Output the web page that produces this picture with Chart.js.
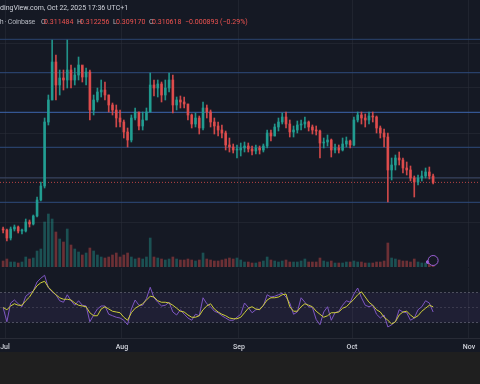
<!DOCTYPE html>
<html>
<head>
<meta charset="utf-8">
<script src="https://cdn.jsdelivr.net/npm/chart.js@4.4.1/dist/chart.umd.min.js"></script>
<style>
html, body { margin: 0; padding: 0; background: #1f1f1f; }
#wrap { position: relative; width: 480px; height: 384px; overflow: hidden; background: #1f1f1f; }
#pane { position: absolute; left: 0; top: 0; width: 480px; height: 352px; background: #151924; }
#priceChart { position: absolute; left: 0; top: 0; }
#rsiChart { position: absolute; left: 0; top: 268px; }
.hdr { position: absolute; font: 7px Roboto, sans-serif; white-space: nowrap; color: #b2b5be; line-height: 9px; }
.red { color: #ef5350; }
</style>
</head>
<body>
<div id="wrap">
  <div id="pane"></div>
  <canvas id="priceChart" width="480" height="267"></canvas>
  <canvas id="rsiChart" width="480" height="84"></canvas>
  <div class="hdr" style="left:0;top:4px;color:#d1d4dc">dingView.com, Oct 22, 2025 17:36 UTC+1</div>
  <div class="hdr" style="left:-4px;top:18px;letter-spacing:-0.25px">4h · Coinbase</div>
  <div class="hdr" style="left:41px;top:18px">O</div>
  <div class="hdr red" style="left:44px;top:18px">0.311484</div>
  <div class="hdr" style="left:77px;top:18px">H</div>
  <div class="hdr red" style="left:80px;top:18px">0.312256</div>
  <div class="hdr" style="left:113px;top:18px">L</div>
  <div class="hdr red" style="left:116px;top:18px">0.309170</div>
  <div class="hdr" style="left:149px;top:18px">C</div>
  <div class="hdr red" style="left:152px;top:18px">0.310618</div>
  <div class="hdr red" style="left:185px;top:18px">−0.000893 (−0.29%)</div>
</div>
<script>
// daily candles, day 0 = Jul 1 2025, first candle = Jun 30
const FIRST_DAY = -1;
const monthDays = [0, 31, 62, 92, 123];
const monthLabels = ['Jul', 'Aug', 'Sep', 'Oct', 'Nov'];

const firstOpen = 0.264;
const closes = [
  0.263,0.255,0.264,0.266,0.262,0.262,0.271,0.269,0.277,0.293,
  0.307,0.371,0.393,0.431,0.408,0.415,0.413,0.423,0.413,0.418,
  0.428,0.416,0.421,0.383,0.393,0.401,0.403,0.398,0.388,0.383,
  0.375,0.371,0.361,0.353,0.375,0.381,0.367,0.373,0.381,0.408,
  0.405,0.409,0.398,0.405,0.413,0.388,0.393,0.391,0.389,0.378,
  0.369,0.375,0.365,0.385,0.381,0.371,0.367,0.363,0.360,0.348,
  0.346,0.343,0.343,0.345,0.347,0.344,0.342,0.345,0.343,0.347,
  0.360,0.357,0.366,0.371,0.376,0.369,0.361,0.363,0.368,0.369,
  0.371,0.366,0.363,0.362,0.350,0.351,0.353,0.343,0.345,0.343,
  0.349,0.352,0.348,0.373,0.378,0.375,0.373,0.377,0.376,0.365,
  0.360,0.356,0.323,0.328,0.335,0.333,0.325,0.323,0.315,0.311,
  0.315,0.317,0.321,0.317,0.3106
];
const highs = [
  0.266,0.264,0.266,0.268,0.267,0.264,0.274,0.273,0.278,0.296,
  0.311,0.375,0.398,0.453,0.438,0.423,0.423,0.453,0.428,0.425,
  0.436,0.427,0.425,0.423,0.398,0.405,0.413,0.411,0.398,0.390,
  0.388,0.383,0.373,0.365,0.378,0.385,0.381,0.381,0.385,0.420,
  0.413,0.413,0.411,0.413,0.420,0.418,0.396,0.397,0.396,0.389,
  0.379,0.380,0.377,0.391,0.388,0.383,0.375,0.371,0.368,0.362,
  0.355,0.349,0.348,0.350,0.351,0.350,0.347,0.348,0.347,0.349,
  0.363,0.363,0.369,0.375,0.380,0.381,0.373,0.367,0.372,0.373,
  0.376,0.372,0.368,0.367,0.363,0.355,0.358,0.354,0.349,0.348,
  0.355,0.356,0.353,0.376,0.381,0.381,0.379,0.381,0.381,0.377,
  0.367,0.364,0.360,0.335,0.338,0.341,0.335,0.331,0.327,0.317,
  0.318,0.322,0.325,0.326,0.319
];
const lows = [
  0.260,0.252,0.253,0.262,0.260,0.259,0.261,0.266,0.268,0.276,
  0.292,0.305,0.368,0.393,0.393,0.398,0.403,0.405,0.405,0.408,
  0.413,0.411,0.408,0.373,0.378,0.391,0.396,0.393,0.381,0.378,
  0.366,0.366,0.355,0.346,0.351,0.373,0.363,0.363,0.373,0.381,
  0.397,0.396,0.391,0.393,0.401,0.380,0.383,0.385,0.385,0.373,
  0.365,0.366,0.359,0.363,0.375,0.366,0.359,0.357,0.355,0.343,
  0.341,0.340,0.335,0.337,0.341,0.341,0.338,0.339,0.339,0.341,
  0.345,0.352,0.357,0.362,0.369,0.365,0.356,0.356,0.360,0.363,
  0.365,0.362,0.359,0.358,0.335,0.345,0.347,0.336,0.340,0.340,
  0.342,0.346,0.345,0.347,0.371,0.369,0.366,0.369,0.371,0.360,
  0.355,0.346,0.291,0.313,0.323,0.328,0.320,0.318,0.312,0.296,
  0.308,0.312,0.315,0.314,0.309
];
// volume, millions
const volumes = [
  6,8,5,5,4,5,10,8,9,16,
  18,45,53,48,35,28,25,38,22,18,
  15,12,14,19,16,12,10,9,10,12,
  14,10,12,14,10,8,9,8,10,29,
  10,9,8,7,8,10,8,7,7,8,
  7,6,7,14,8,7,6,6,7,8,
  9,8,9,7,5,5,4,4,5,6,
  10,7,6,5,6,7,5,5,5,6,
  8,5,5,5,9,6,5,6,4,4,
  4,5,5,6,5,5,4,4,4,5,
  5,6,24,9,8,7,6,6,5,8,
  5,4,4,3,3
];
const rsi = [
  50,31,56,60,55,51,65,69,72,84,
  89,93,76,71,67,59,57,67,59,53,
  59,53,52,31,40,48,52,52,41,39,
  37,36,33,27,48,60,53,53,62,77,
  63,57,52,53,57,44,40,47,41,36,
  33,41,39,63,55,51,45,43,39,36,
  33,33,37,41,56,50,43,47,48,52,
  67,64,65,67,69,64,56,41,44,63,
  57,51,50,34,27,44,51,33,43,45,
  53,59,57,68,76,63,53,51,53,41,
  36,40,24,27,31,47,44,43,33,36,
  47,51,59,56,44
];
const rsiMa = [
  50,47,52,55,53,53,59,64,72,79,
  83,85,77,72,67,63,61,61,60,56,
  53,52,51,43,39,39,48,51,48,45,
  44,43,37,33,43,49,52,55,60,65,
  64,59,57,57,56,53,49,45,44,40,
  37,37,39,47,52,55,48,44,41,39,
  36,35,35,37,43,49,51,48,47,53,
  60,63,63,64,67,68,51,45,45,51,
  55,53,51,45,41,37,39,43,43,44,
  49,51,56,61,67,71,64,57,53,47,
  44,37,33,28,31,40,44,45,40,36,
  39,45,49,53,51
];
const levels = [0.4537, 0.4203, 0.3807, 0.3457, 0.3152, 0.2907];
const lastPrice = 0.310618;
const gridPrices = [0.27, 0.315, 0.36, 0.405, 0.45];
const rsiBands = [70, 30, 50];
const eventDays = [112.1, 113.5];

const levelColors = ['#2b4470', '#2d4a7c', '#3d66b0', '#2d4a7c', '#3a4766', '#2d4a7c'];
const UP = 'rgba(34,160,148,0.9)', DOWN = 'rgba(226,78,78,0.9)';
const GRID = 'rgba(42,46,57,0.55)';
const X_MIN = -5 / 3.772, X_MAX = 475 / 3.772;

const xs = closes.map((_, i) => FIRST_DAY + i + 0.5);
const opens = closes.map((c, i) => i === 0 ? firstOpen : closes[i - 1]);
const up = i => closes[i] >= opens[i];
const candleColor = ctx => up(ctx.dataIndex) ? UP : DOWN;

const flat = (y) => [{ x: X_MIN, y }, { x: X_MAX, y }];

new Chart(document.getElementById('priceChart'), {
  type: 'bar',
  data: {
    datasets: [
      {
        label: 'Volume', yAxisID: 'yv', grouped: false, order: 5, barThickness: 2,
        data: xs.map((x, i) => ({ x, y: volumes[i] })),
        backgroundColor: ctx => up(ctx.dataIndex) ? 'rgba(38,166,154,0.4)' : 'rgba(239,83,80,0.4)'
      },
      {
        label: 'Wick', grouped: false, order: 2, barThickness: 1,
        data: xs.map((x, i) => ({ x, y: [lows[i], highs[i]] })),
        backgroundColor: candleColor
      },
      {
        label: 'Body', grouped: false, order: 1, barThickness: 2, minBarLength: 1,
        data: xs.map((x, i) => ({ x, y: [opens[i], closes[i]] })),
        backgroundColor: candleColor
      },
      ...levels.map((lv, j) => ({
        type: 'line', label: 'Level ' + j, order: 3, data: flat(lv),
        borderColor: levelColors[j], borderWidth: 1, pointRadius: 0
      })),
      {
        type: 'line', label: 'Last', order: 3, data: flat(lastPrice),
        borderColor: 'rgba(239,83,80,0.75)', borderWidth: 1, borderDash: [1, 2], pointRadius: 0
      },
      {
        type: 'scatter', label: 'Events', yAxisID: 'yv', order: 0,
        data: eventDays.map((d, i) => ({ x: d, y: i ? 6.5 : 5 })),
        pointRadius: [1.5, 5], pointBorderWidth: 1,
        pointBorderColor: '#9b5fd6', pointBackgroundColor: ['#9b5fd6', 'rgba(21,25,36,0.9)']
      }
    ]
  },
  options: {
    responsive: false, animation: false,
    layout: { padding: 0, autoPadding: false },
    plugins: { legend: { display: false }, tooltip: { enabled: false } },
    scales: {
      x: {
        type: 'linear', min: X_MIN, max: X_MAX, offset: false,
        afterBuildTicks: s => { s.ticks = monthDays.map(v => ({ value: v })); },
        afterFit: s => { s.height = 0; s.paddingLeft = 0; s.paddingRight = 0; },
        ticks: { display: false },
        grid: { color: GRID, drawTicks: false, offset: false },
        border: { display: false }
      },
      y: {
        min: 0.226, max: 0.493,
        afterBuildTicks: s => { s.ticks = gridPrices.map(v => ({ value: v })); },
        afterFit: s => { s.width = 0; },
        ticks: { display: false },
        grid: { color: GRID, drawTicks: false },
        border: { display: false }
      },
      yv: { min: 0, max: 267, display: false }
    }
  }
});

new Chart(document.getElementById('rsiChart'), {
  type: 'line',
  data: {
    datasets: [
      { label: 'RSI', order: 1, data: xs.map((x, i) => ({ x, y: rsi[i] })),
        borderColor: '#7e57c2', borderWidth: 1, pointRadius: 0 },
      { label: 'RSI MA', order: 0, data: xs.map((x, i) => ({ x, y: rsiMa[i] })),
        borderColor: '#cfcf3a', borderWidth: 1, pointRadius: 0 },
      { label: 'Upper', order: 3, data: flat(rsiBands[0]), fill: '+1',
        backgroundColor: 'rgba(126,87,194,0.1)',
        borderColor: 'rgba(120,123,134,0.55)', borderWidth: 1, borderDash: [2, 2], pointRadius: 0 },
      { label: 'Lower', order: 3, data: flat(rsiBands[1]),
        borderColor: 'rgba(120,123,134,0.55)', borderWidth: 1, borderDash: [2, 2], pointRadius: 0 },
      { label: 'Middle', order: 3, data: flat(rsiBands[2]),
        borderColor: 'rgba(120,123,134,0.3)', borderWidth: 1, borderDash: [2, 2], pointRadius: 0 }
    ]
  },
  options: {
    responsive: false, animation: false,
    layout: { padding: 0, autoPadding: false },
    plugins: { legend: { display: false }, tooltip: { enabled: false } },
    scales: {
      x: {
        type: 'linear', min: X_MIN, max: X_MAX,
        afterBuildTicks: s => { s.ticks = monthDays.map(v => ({ value: v })); },
        afterFit: s => { s.height = 14; s.paddingLeft = 0; s.paddingRight = 0; },
        ticks: {
          autoSkip: false, maxRotation: 0, padding: 5, color: '#d1d4dc',
          font: { family: 'Roboto', size: 7, weight: '500' },
          callback: v => monthLabels[monthDays.indexOf(v)]
        },
        grid: { color: GRID, drawTicks: false },
        border: { color: 'rgba(42,46,57,0.9)' }
      },
      y: { min: 9.33, max: 102.67, display: false }
    }
  }
});
</script>
</body>
</html>
